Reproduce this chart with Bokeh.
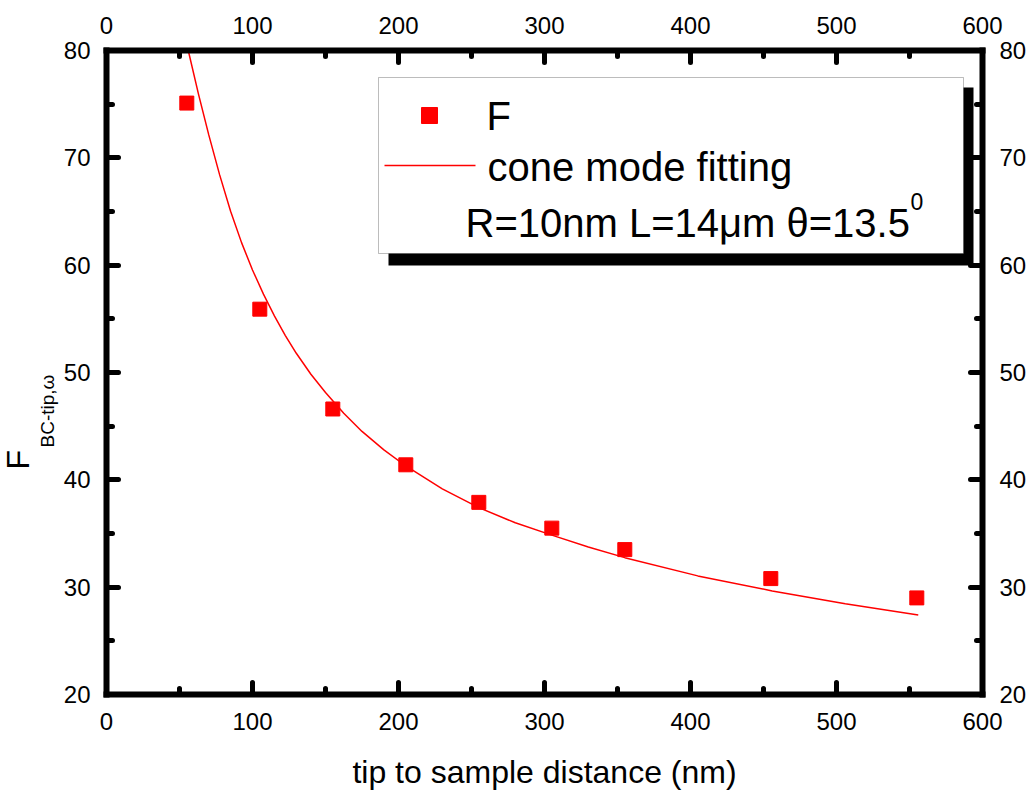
from bokeh.plotting import figure
from bokeh.models import Range1d, LinearAxis, SingleIntervalTicker, Label, BoxAnnotation, Title
from bokeh.embed import file_html
from bokeh.resources import INLINE

# ---------------- data ----------------
distance_nm = [55, 105, 155, 205, 255, 305, 355, 455, 555]
F_values = [75.1, 55.9, 46.6, 41.4, 37.9, 35.5, 33.5, 30.8, 29.0]

fit_x = [56, 63, 70, 77.5, 85, 92.5, 100, 107.5, 115, 122.5, 130, 140, 150,
         162.5, 175, 190, 205, 230, 255, 280, 305, 330, 355, 405, 456, 506, 556]
fit_y = [80.0, 75.94, 72.16, 68.41, 65.03, 62.1, 59.55, 57.3, 55.28, 53.44,
         51.79, 49.84, 48.14, 46.2, 44.51, 42.79, 41.29, 39.16, 37.41, 36.0,
         34.85, 33.75, 32.75, 31.05, 29.65, 28.45, 27.4]

x_range_vals = [0, 600]
y_range_vals = [20, 80]
x_tick_step = 100
y_tick_step = 10

legend_labels = ["F", "cone mode fitting"]
param_text = "R=10nm L=14\u03bcm \u03b8=13.5"
param_sup = "0"
x_title = "tip to sample distance (nm)"
y_title_main = "F"
y_title_sub = "BC-tip,\u03c9"

# ---------------- layout ----------------
W, H = 1035, 792
FRAME_L, FRAME_T = 106, 50
FRAME_W, FRAME_H = 876, 644


def px_x(px):
    """canvas pixel x -> data x"""
    return x_range_vals[0] + (px - FRAME_L) * (x_range_vals[1] - x_range_vals[0]) / FRAME_W


def px_y(py):
    """canvas pixel y -> data y"""
    return y_range_vals[1] - (py - FRAME_T) * (y_range_vals[1] - y_range_vals[0]) / FRAME_H


FONT = "Liberation Sans"

p = figure(frame_width=FRAME_W, frame_height=FRAME_H,
           x_range=Range1d(*x_range_vals), y_range=Range1d(*y_range_vals),
           output_backend="svg", toolbar_location=None,
           min_border_left=FRAME_L, min_border_top=FRAME_T,
           min_border_right=W - FRAME_L - FRAME_W,
           min_border_bottom=H - FRAME_T - FRAME_H,
           background_fill_color="white", border_fill_color="white")
p.outline_line_color = None
p.xgrid.visible = False
p.ygrid.visible = False

p.add_layout(LinearAxis(), "above")
p.add_layout(LinearAxis(), "right")


def style(ax, step, standoff):
    ax.ticker = SingleIntervalTicker(interval=step, num_minor_ticks=2)
    ax.axis_line_width = 6
    ax.axis_line_color = "black"
    ax.axis_line_cap = "square"
    ax.major_tick_in = 12
    ax.major_tick_out = 0
    ax.minor_tick_in = 6
    ax.minor_tick_out = 0
    ax.major_tick_line_width = 5
    ax.minor_tick_line_width = 5
    ax.major_tick_line_color = "black"
    ax.minor_tick_line_color = "black"
    ax.major_tick_line_cap = "round"
    ax.minor_tick_line_cap = "round"
    ax.major_label_text_font = FONT
    ax.major_label_text_font_size = "24px"
    ax.major_label_text_color = "black"
    ax.major_label_standoff = standoff
    ax.axis_label = None


for ax in p.below:
    style(ax, x_tick_step, 18)
    ax.axis_label = x_title
    ax.axis_label_text_font = FONT
    ax.axis_label_text_font_size = "32px"
    ax.axis_label_text_font_style = "normal"
    ax.axis_label_text_color = "black"
    ax.axis_label_standoff = 21
for ax in p.above:
    style(ax, x_tick_step, 17)
for ax in p.left:
    style(ax, y_tick_step, 16)
for ax in p.right:
    style(ax, y_tick_step, 17)

# y title: subscript panel (closer to axis) then main "F"
p.add_layout(Title(text=y_title_sub, align="left", offset=247,
                   text_font=FONT, text_font_size="19px", text_font_style="normal",
                   text_color="black", standoff=6), "left")
p.add_layout(Title(text=y_title_main, align="left", offset=225,
                   text_font=FONT, text_font_size="32px", text_font_style="normal",
                   text_color="black", standoff=-9), "left")

RED = "#ff0000"

# fit curve and data points
p.line(fit_x, fit_y, line_color=RED, line_width=1.5)
p.scatter(distance_nm, F_values, marker="square", size=14,
          fill_color=RED, line_color=RED)

# ---------------- legend (manual, with shadow) ----------------
box_l, box_t, box_r, box_b = 378, 77, 963, 253
p.add_layout(BoxAnnotation(left=px_x(box_l + 10), right=px_x(box_r + 10),
                           top=px_y(box_t + 10), bottom=px_y(box_b + 12),
                           fill_color="black", fill_alpha=1.0, line_color=None))
p.add_layout(BoxAnnotation(left=px_x(box_l), right=px_x(box_r),
                           top=px_y(box_t), bottom=px_y(box_b),
                           fill_color="white", fill_alpha=1.0,
                           line_color="#222222", line_width=1))

p.scatter([px_x(429)], [px_y(115)], marker="square", size=16,
          fill_color=RED, line_color=RED, level="overlay")
p.line([px_x(384), px_x(475)], [px_y(165), px_y(165)], line_color=RED,
       line_width=1.5, level="overlay")

p.add_layout(Label(x=px_x(486), y=px_y(115), text=legend_labels[0],
                   text_font=FONT, text_font_size="40px", text_color="black",
                   text_align="left", text_baseline="middle"))
p.add_layout(Label(x=px_x(487), y=px_y(166), text=legend_labels[1],
                   text_font=FONT, text_font_size="40px", text_color="black",
                   text_align="left", text_baseline="middle"))
p.add_layout(Label(x=px_x(465), y=px_y(222), text=param_text,
                   text_font=FONT, text_font_size="40px", text_color="black",
                   text_align="left", text_baseline="middle"))
p.add_layout(Label(x=px_x(910), y=px_y(201), text=param_sup,
                   text_font=FONT, text_font_size="23px", text_color="black",
                   text_align="left", text_baseline="middle"))

open("out.html", "w", encoding="utf-8").write(file_html(p, INLINE))
